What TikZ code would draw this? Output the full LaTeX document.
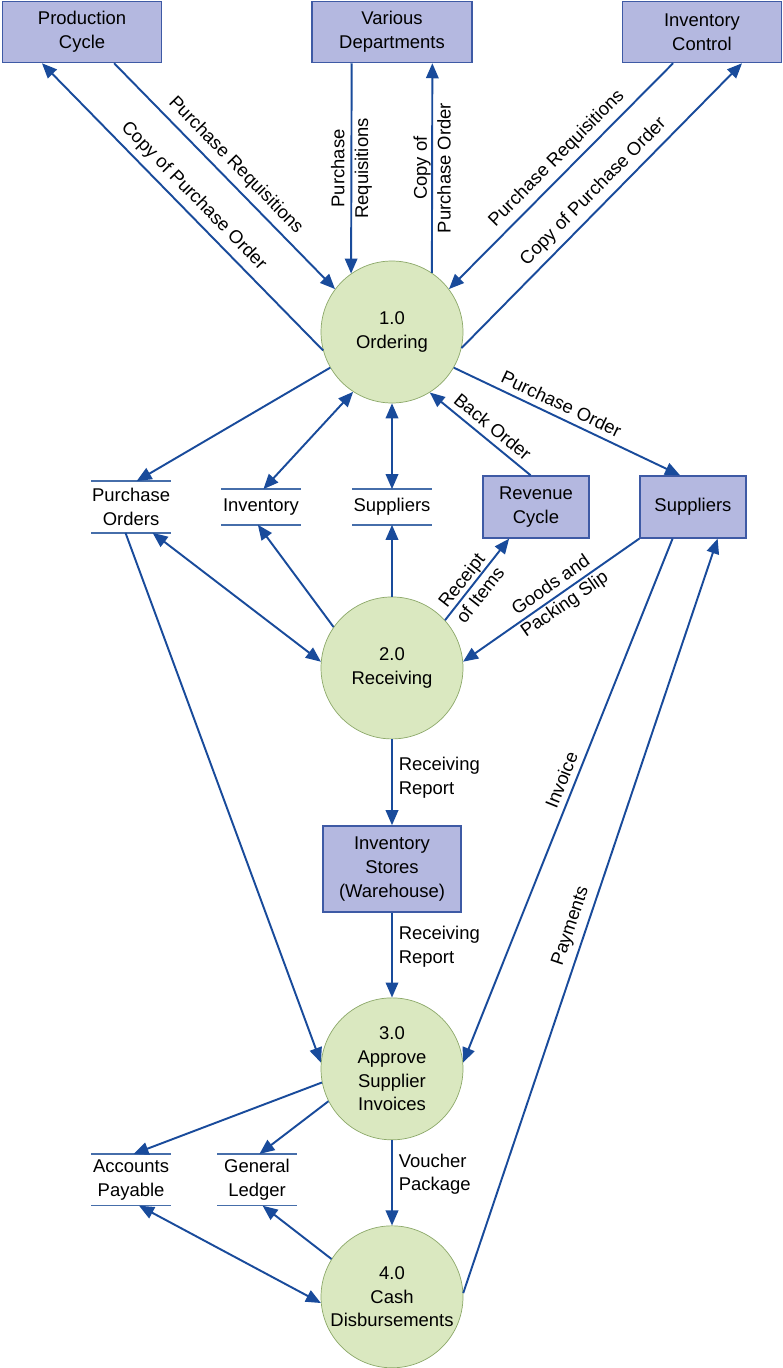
\documentclass[tikz,border=0pt]{standalone}
\usepackage{fontspec}
\setmainfont{Liberation Sans}
\usepackage{tikz}
\usetikzlibrary{arrows.meta,calc,positioning}
\definecolor{flowblue}{RGB}{25,75,155}
\definecolor{boxfill}{RGB}{180,184,224}
\definecolor{boxline}{RGB}{62,90,165}
\definecolor{procfill}{RGB}{218,232,192}
\definecolor{procline}{RGB}{140,168,105}
\definecolor{storeblue}{RGB}{70,110,170}
\tikzset{
node distance=4cm, % centre to centre, since we use on grid
proc/.style={circle, draw=procline, fill=procfill, minimum size=2.84cm, inner sep=0pt, align=center},
ext/.style={rectangle, draw=boxline, fill=boxfill, line width=0.8pt, inner sep=0pt, align=center, minimum height=1.22cm},
store/.style={inner sep=0pt, minimum width=1.58cm, minimum height=0.7cm, align=center},
storeline/.style={draw=storeblue, line width=0.8pt},
flow/.style={flowblue, text=black, line width=1.1pt, -{Triangle[length=0.3cm,width=0.25cm]}},
twoway/.style={{Triangle[length=0.3cm,width=0.25cm]}-{Triangle[length=0.3cm,width=0.25cm]}},
}

\begin{document}
\begin{tikzpicture}[x=0.02cm, y=-0.02cm, on grid, font=\fontsize{10.5}{13.5}\selectfont]
   \useasboundingbox (0,0) rectangle (782,1368);
   % processes
   \node[proc] (ord) at (392,332) {1.0\\Ordering};
   \node[proc] (rec) [below=6.72cm of ord] {2.0\\Receiving};
   \node[ext, minimum width=2.76cm, minimum height=1.72cm] (wh) [below=4.02cm of rec] {Inventory\\Stores\\(Warehouse)};
   \node[proc] (appr) [below=4cm of wh] {3.0\\Approve\\Supplier\\Invoices};
   \node[proc] (cash) [below=4.56cm of appr] {4.0\\Cash\\Disbursements};
   % external entities
   \node[ext, minimum width=3.2cm] (dept) [above=6cm of ord] {Various\\Departments};
   \node[ext, minimum width=3.18cm] (prod) [left=6.2cm of dept] {Production\\Cycle};
   \node[ext, minimum width=3.18cm] (invc) [right=6.2cm of dept] {Inventory\\Control};
   % data stores
   \node[store] (st_sup) [below=3.5cm of ord] {Suppliers};
   \node[store] (st_inv) [left=2.62cm of st_sup] {Inventory};
   \node[store, minimum height=1.02cm] (st_po) [left=2.6cm of st_inv] {Purchase\\Orders};
   \node[ext, minimum width=2.12cm, minimum height=1.24cm] (rev) [right=2.88cm of st_sup] {Revenue\\Cycle};
   \node[ext, minimum width=2.12cm, minimum height=1.24cm] (supp) [right=3.14cm of rev] {Suppliers};
   \node[store, minimum height=1.02cm] (st_ap) [below=13.46cm of st_po] {Accounts\\Payable};
   \node[store, minimum height=1.02cm] (st_gl) [right=2.52cm of st_ap] {General\\Ledger};
   \foreach \s in {st_po,st_inv,st_sup,st_ap,st_gl}
      \draw[storeline] (\s.north west) -- (\s.north east) (\s.south west) -- (\s.south east);

   \path[flow]
   (ord.195) edge node[sloped, above] {Copy of Purchase Order} ($(prod.south west)!0.25!(prod.south east)$)
   ($(prod.south west)!0.7!(prod.south east)$) edge node[sloped, above] {Purchase Requisitions} (ord.143)
   ($(dept.south west)!0.25!(dept.south east)$) edge node[rotate=90, align=center] {Purchase\\Requisitions} (ord.125)
   (ord.56) edge node[rotate=90, align=center] {Copy of\\Purchase Order} ($(dept.south west)!0.75!(dept.south east)$)
   ($(invc.south west)!0.32!(invc.south east)$) edge node[sloped, above, pos=0.47] {Purchase Requisitions} (ord.37)
   (ord.347) edge node[sloped, above, pos=0.51] {Copy of Purchase Order} ($(invc.south west)!0.75!(invc.south east)$)
   (ord.210) edge ($(st_po.north west)!0.57!(st_po.north east)$)
   (ord.237) edge[twoway] ($(st_inv.north west)!0.53!(st_inv.north east)$)
   (ord) edge[twoway] (st_sup)
   ($(rev.north west)!0.45!(rev.north east)$) edge node[sloped, above, pos=0.46] {Back Order} (ord.302)
   (ord.330) edge node[sloped, above, pos=0.45] {Purchase Order} ($(supp.north west)!0.38!(supp.north east)$);

   \path[flow]
   (rec.175) edge[twoway] ($(st_po.south west)!0.77!(st_po.south east)$)
   (rec.145) edge ($(st_inv.south west)!0.46!(st_inv.south east)$)
   (rec) edge (st_sup)
   (rec.42) edge node[sloped, align=center, pos=0.4] {Receipt\\of Items} ($(rev.south west)!0.25!(rev.south east)$)
   (supp.south west) edge node[sloped, align=center, pos=0.46] {Goods and\\Packing Slip} (rec.5)
   (rec) edge node[right, align=left, pos=0.45] {Receiving\\Report} (wh)
   (wh) edge node[right, align=left, pos=0.4] {Receiving\\Report} (appr)
   ($(st_po.south west)!0.43!(st_po.south east)$) edge (appr.175)
   ($(supp.south west)!0.31!(supp.south east)$) edge node[sloped, above, pos=0.47] {Invoice} (appr.5)
   (cash.3) edge node[sloped, above, pos=0.48] {Payments} ($(supp.south west)!0.73!(supp.south east)$)
   (appr.191) edge ($(st_ap.north west)!0.53!(st_ap.north east)$)
   (appr.207) edge ($(st_gl.north west)!0.53!(st_gl.north east)$)
   (appr) edge node[right, align=left, pos=0.4] {Voucher\\Package} (cash)
   (cash.185) edge[twoway] ($(st_ap.south west)!0.6!(st_ap.south east)$)
   (cash.148) edge ($(st_gl.south west)!0.57!(st_gl.south east)$);
\end{tikzpicture}
\end{document}
